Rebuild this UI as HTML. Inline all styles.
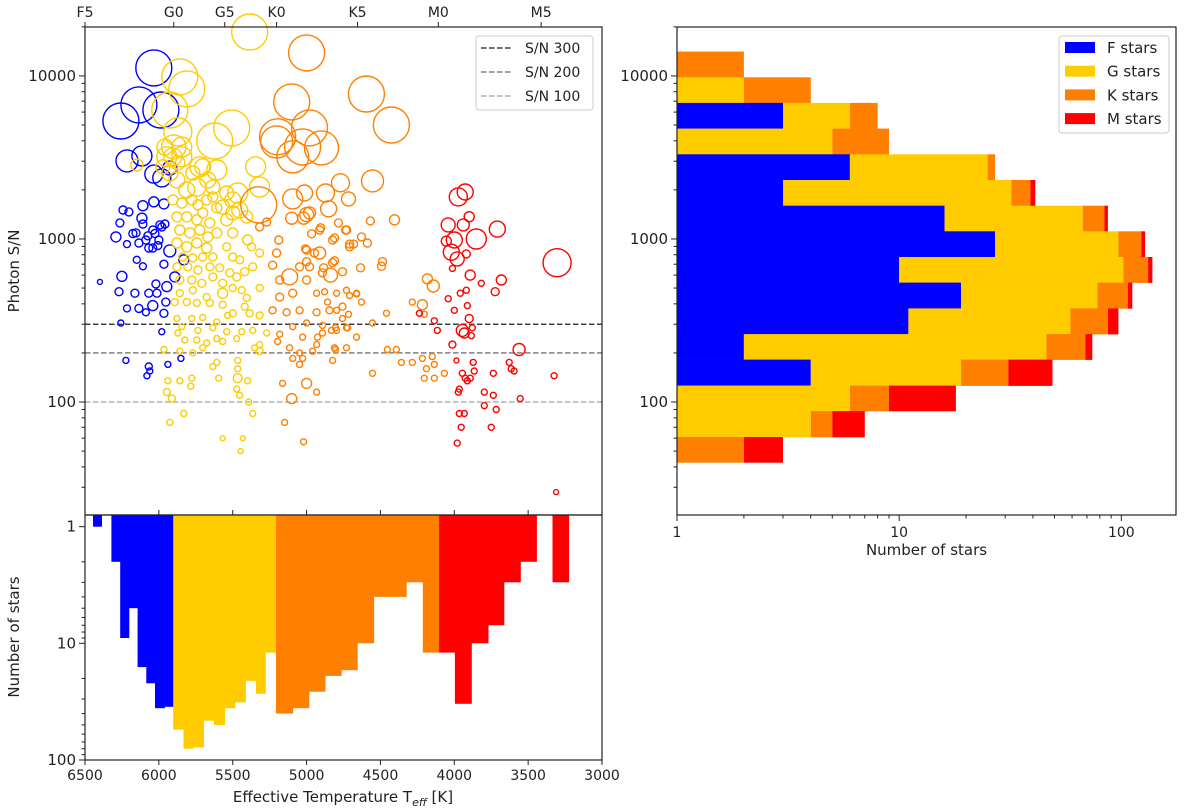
<!DOCTYPE html>
<html><head><meta charset="utf-8"><style>
html,body{margin:0;padding:0;background:#fff;}
svg{display:block;font-family:"DejaVu Sans","Liberation Sans",sans-serif;}
</style></head><body>
<svg id="chart" width="1200" height="811" viewBox="0 0 1200 811" xmlns="http://www.w3.org/2000/svg">
<g id="scatter"></g>
<g id="bottomhist"></g>
<g id="righthist"></g>
</svg>
<script>
// ---------- DATA ----------
const fTeff=[6034,6135,6257,5986,6216,6115,6034,5980,5926,6399,6270,6216,6257,6223,6068,6081,6061,5939,5851,6135,6088,6162,6068,6013,6041,5966,5980,5953,6020,5946,5892,6250,6149,6108,5966,5926,5831,6291,6216,6135,6074,6041,6000,5980,6108,6041,6115,6243,6203,6264,6108,6034,5966,6155,6068,5993,5959,6027,6007,6088,6176];
const fSnr=[11200,6640,5290,6180,3010,3230,2500,2370,2720,545,475,375,305,180,165,145,155,170,185,375,355,465,465,465,390,350,270,410,530,510,585,590,745,680,700,845,745,1030,930,945,1045,880,985,1185,1235,1135,1340,1505,1465,1255,1600,1690,1640,1090,880,1220,1235,1080,910,985,1080];
const fSize=[18,18,18,18,11,10,9,9,7,2.5,4,3.5,3,3,3.5,3,3,3,3,4,3.5,4,4,4,5,4,3,4,4,5,5,5,3.5,3.5,4,6,5,5,3.5,4,4,4,4,4,4,4,5,4,4,4,5,5,5,4,4,4,4,4,4,4,4];

const gTeff=[5385,5858,5811,5926,5872,5622,5507,5899,5946,5845,5723,5608,5345,5318,5466,5703,5770,5669,5743,5811,5878,5926,5872,5845,5905,5959,5635,5541,5500,5453,5500,5405,5568,5541,6149,5973,
5905,5845,5777,5736,5676,5635,5608,5878,5811,5743,5703,5655,5858,5790,5723,5669,5608,5878,5811,5743,5676,5838,5770,5703,5635,5878,5804,5736,5655,5588,5520,5858,5777,5709,5635,5568,5473,5419,5365,5318,5372,5399,5500,5541,5500,5453,
5858,5770,5676,5568,5500,5439,5405,5318,5892,5811,5743,5655,5568,5500,5419,5385,5318,5878,5777,5703,5608,5534,5845,5736,5635,5541,5439,5365,5270,5872,5824,5743,5676,5608,5568,5473,5351,5318,5966,5858,5770,5703,5635,5608,5466,5466,5318,5939,5858,5777,5784,5595,5466,5399,5946,5912,5453,5392,5365,5831,5926,5568,5432,5446,5473];
const gSnr=[18600,9860,8320,6180,4540,3990,4800,3670,3190,3190,2770,2650,2770,2080,1915,2770,2540,2300,2080,2000,2300,2540,2930,3660,3190,3660,2080,1915,1735,1505,1445,1365,1570,1310,2840,2770,
1735,1660,1735,1620,1735,1810,1550,1365,1365,1310,1445,1255,1135,1090,1135,1030,1090,945,895,945,880,775,765,775,775,675,675,645,675,665,620,560,560,535,585,535,585,630,675,820,895,985,1090,895,775,745,
465,485,440,465,500,485,435,500,410,410,405,405,395,350,385,350,340,325,325,330,310,340,290,275,285,270,270,275,265,265,240,240,230,245,235,245,215,225,210,205,200,215,165,175,180,160,205,135,135,140,125,140,140,135,115,105,110,100,85,85,75,60,60,50,120];
const gSize=[18,18,18,18,14,18,18,12,10,10,10,10,10,10,10,8,7,8,9,8,8,8,7,10,9,8,7,7,8,8,7,6,7,6,6,7,
5,5,5,5,5,5,5,5,5,5,5,5,5,5,5,5,5,5,5,5,5,4,4,4,4,4,4,4,4,4,4,4,4,4,4,4,4,4,4,4,4,5,5,4,4,4,
3.5,3.5,3.5,5,3.5,3.5,3.5,3.5,3.5,3.5,3.5,3.5,3.5,3.5,3.5,3.5,3.5,3,3,3,3,3,3,3,3,3,3,3,3,3,3,3,3,3,3,3,3,3,3,3,3,3,3,3,3,3,3.5,3,3,3,3,3,4.5,3,3.5,3.5,3,3,3,3,3,2.5,2.5,2.5,3];

const kTeff=[5000,5101,5196,5203,4980,5027,4899,5094,4595,4426,4554,4770,4872,4716,4851,5014,5094,5324,5000,5101,4980,5020,
5318,5270,5189,5203,5230,5182,5115,5047,5000,4946,4912,4824,4730,4709,4824,4892,5000,5094,5182,5230,5135,5047,4932,4845,4757,5000,5094,5182,5027,4892,4797,4730,5196,5115,5047,4959,4811,4730,5094,5047,4824,5162,5000,4932,5101,5149,5020,4730,4662,4797,4932,
4912,4811,4838,4757,4635,4486,4493,4709,4682,4628,4588,4811,4736,4568,4405,4784,4905,4966,4885,4980,4878,4858,4709,4662,4628,4797,4757,4716,4892,4831,4804,4723,4662,4554,4459,4926,4932,4804,4453,4392,5027,4554,4358,4284,4216,4149,4189,4135,4203,4135,4067,4284,4216,4203,4182,4142,5007,5000];
const kSnr=[13850,6930,4230,3940,4800,3670,3620,3190,7750,5000,2270,2210,1915,1760,1530,1915,1760,1620,1410,1340,1445,1340,
1185,1270,985,820,690,560,585,675,855,820,1135,985,1135,895,715,620,560,465,440,365,355,365,355,365,385,305,290,260,250,265,275,285,235,215,200,205,215,215,185,170,180,130,130,115,105,75,57,485,465,465,465,
820,735,600,630,665,725,680,930,930,1030,945,1015,1135,1290,1310,1255,1170,1075,665,675,475,410,450,460,410,365,325,345,295,275,285,285,250,305,350,250,225,210,210,210,185,150,175,175,185,190,160,170,140,140,150,410,395,345,570,515,870,725];
const kSize=[18,18,18,16,18,18,17,16,18,18,11,9,9,7,8,8,10,18,7,6,6,6,
4,4,4,4,4,4,8,4,4,4,4,4,4,4,4,4,4,4,4,3.5,3.5,3.5,3.5,3.5,3.5,3,3,3,3,3,3,3,3,3,3,3,3,3,3,3,3,3,5,3,5,3,3,3,3,3,3,
6,4,7,4,4,4,4,4,4,4,4,4,4,4,5,4,4,4,4,4,3,3,3,3,3,3,3,3,3,3,3,3,3,3,3,3,3,3,3,3,3,3,3,3,3,3,3,3,3,3,3,3,5,3,5,6,4,4];

const mTeff=[3973,3926,3899,4041,3939,3709,4000,3851,4054,4020,3980,3304,3919,4013,3892,3682,3817,3723,4135,4115,4041,4000,3959,3919,3912,3899,3946,3932,3878,3885,4013,3986,3946,3926,3912,3892,3872,3865,3736,3628,3615,3595,3561,3324,3797,3736,3554,3973,3966,3797,3716,3966,3932,3953,3750,3980,3311,4236];
const mSnr=[1810,1940,1370,1220,1220,1150,985,1000,970,830,755,715,810,660,600,560,535,475,315,275,430,365,465,485,390,325,275,265,285,255,225,180,150,140,135,140,175,155,150,175,160,155,210,145,115,110,105,115,120,95,90,85,85,70,70,56,28,350];
const mSize=[9,8,5,7,6,8,8,10,5,8,7,14,4,3,5,5,3,4,3,3,3,3,3,3,3,4,6,5,3,3,3.5,2.5,3,3,3,3,3,3,3,3,3,3,6,3,3,3,3,3,3,3,3,3,3,3,3,3,2.5,3];

// bottom histogram (Teff bins)
const binLo=[6446,6321,6262,6203,6144,6085,6026,5962,5903,5833,5769,5697,5627,5555,5485,5413,5343,5279,5207,5094,4984,4874,4765,4657,4545,4325,4213,4103,3996,3884,3771,3664,3552,3335];
const binHi=[6388,6262,6203,6144,6085,6026,5962,5903,5833,5769,5697,5627,5555,5485,5413,5343,5279,5207,5094,4984,4874,4765,4657,4545,4325,4213,4103,3996,3884,3771,3664,3552,3444,3225];
const binCount=[1,2,9,5,16,22,36,35,55,80,78,46,50,36,32,21,27,12,40,36,26,19,17,10,4,3,12,12,33,10,7,3,2,3];
const binClass=["F","F","F","F","F","F","F","F","G","G","G","G","G","G","G","G","G","G","K","K","K","K","K","K","K","K","K","M","M","M","M","M","M","M"];

// right histogram (S/N bins, top to bottom)
const snrEdges=[14090,9810,6830,4750,3305,2300,1600,1115,775,540,375,261,182,126,88,61,42.6];
const countF=[0,0,3,0,6,3,16,27,10,19,11,2,4,0,0,0];
const countG=[0,2,3,5,19,29,51,70,92,59,48,44,15,6,4,0];
const countK=[2,2,2,4,2,7,17,26,30,29,28,23,12,3,1,2];
const countM=[0,0,0,0,0,2,3,5,6,5,10,5,18,9,2,1];

const refLevels=[300,200,100];
const refLabels=["S/N 300","S/N 200","S/N 100"];
const specTeff=[6500,5899,5554,5203,4655,4108,3412];
const specLabels=["F5","G0","G5","K0","K5","M0","M5"];
const teffTicks=[6500,6000,5500,5000,4500,4000,3500,3000];
const snrTicks=[100,1000,10000];
const countTicks=[1,10,100];

// ---------- STYLE / SCALES ----------
const COL={F:"#0000ff",G:"#ffcc00",K:"#ff8000",M:"#ff0000"};
const NS="http://www.w3.org/2000/svg";
const L={x0:85,x1:602,y0:27,y1:515,hy1:760};
const R={x0:677,x1:1176};
const yLo=1.307,yHi=4.30;
function xT(t){return L.x0+(6500-t)/3500*(L.x1-L.x0);}
function yS(v){return L.y1-(Math.log10(v)-yLo)/(yHi-yLo)*(L.y1-L.y0);}
function yN(n){return L.y1+(Math.log10(n)+0.1)/2.1*(L.hy1-L.y1);}
function xN(n){return R.x0+Math.log10(n)/2.246*(R.x1-R.x0);}
function mk(tag,attrs,parent){const e=document.createElementNS(NS,tag);for(const k in attrs)e.setAttribute(k,attrs[k]);parent.appendChild(e);return e;}
function txt(s,attrs,parent){const e=mk("text",attrs,parent);e.textContent=s;return e;}

const sc=document.getElementById("scatter"),bh=document.getElementById("bottomhist"),rh=document.getElementById("righthist");

// ---------- SCATTER ----------
refLevels.forEach((lv,i)=>{
  const c=["#404040","#808080","#b0b0b0"][i];
  const ln=mk("line",{x1:L.x0,x2:L.x1,y1:yS(lv),y2:yS(lv),stroke:c,"stroke-width":1.5,"stroke-dasharray":"5.5,2.5"},sc);
  
  
});
const groups=[["F",fTeff,fSnr,fSize],["G",gTeff,gSnr,gSize],["K",kTeff,kSnr,kSize],["M",mTeff,mSnr,mSize]];
groups.forEach(([cls,T,S,Z])=>{
  const g=mk("g",{},sc);
  
  
  for(let i=0;i<T.length;i++){
    const c=mk("circle",{cx:xT(T[i]).toFixed(1),cy:yS(S[i]).toFixed(1),r:Z[i],fill:"none",stroke:COL[cls],"stroke-width":1.4},g);
    
    
  }
});
const sf=mk("rect",{x:L.x0,y:L.y0,width:L.x1-L.x0,height:L.y1-L.y0,fill:"none",stroke:"#222","stroke-width":1.2},sc);


// y ticks
for(let d=1;d<=4;d++){for(let m=1;m<10;m++){const v=m*Math.pow(10,d);const y=yS(v);if(y<L.y0-0.5||y>L.y1+0.5)continue;
  mk("line",{x1:L.x0,x2:L.x0-(m===1?6:3.5),y1:y,y2:y,stroke:"#222","stroke-width":1},sc);}}
snrTicks.forEach(v=>{const t=txt(String(v),{x:L.x0-9,y:yS(v)+5,"text-anchor":"end","font-size":15,fill:"#222"},sc);
  });
// top spectral ticks
specTeff.forEach((t,i)=>{const x=xT(t);mk("line",{x1:x,x2:x,y1:L.y0,y2:L.y0-5,stroke:"#222","stroke-width":1},sc);
  const e=txt(specLabels[i],{x:x,y:L.y0-10,"text-anchor":"middle","font-size":14,fill:"#222"},sc);
  });
const yt=txt("Photon S/N",{transform:"translate(19,271) rotate(-90)","text-anchor":"middle","font-size":15,fill:"#222"},sc);

// legend
const lg=mk("g",{},sc);


mk("rect",{x:476,y:36,width:117,height:74,rx:3,fill:"#fff","fill-opacity":0.85,stroke:"#ccc","stroke-width":1},lg);
refLabels.forEach((s,i)=>{const y=48+i*24;
  mk("line",{x1:481,x2:512,y1:y,y2:y,stroke:["#404040","#808080","#b0b0b0"][i],"stroke-width":1.5,"stroke-dasharray":"5.5,2.5"},lg);
  const e=txt(s,{x:525,y:y+5,"font-size":14,fill:"#222"},lg);
  });

// ---------- BOTTOM HIST ----------
for(let i=0;i<binCount.length;i++){
  const xa=xT(binLo[i]),xb=xT(binHi[i]);
  const r=mk("rect",{x:xa.toFixed(1),y:L.y1,width:(xb-xa+0.4).toFixed(1),height:(yN(binCount[i])-L.y1).toFixed(1),fill:COL[binClass[i]]},bh);
  
  
}
const bf=mk("rect",{x:L.x0,y:L.y1,width:L.x1-L.x0,height:L.hy1-L.y1,fill:"none",stroke:"#222","stroke-width":1.2},bh);


for(let d=0;d<=1;d++){for(let m=1;m<10;m++){const v=m*Math.pow(10,d);const y=yN(v);
  mk("line",{x1:L.x0,x2:L.x0-(m===1?6:3.5),y1:y,y2:y,stroke:"#222","stroke-width":1},bh);}}
mk("line",{x1:L.x0,x2:L.x0-6,y1:yN(100),y2:yN(100),stroke:"#222","stroke-width":1},bh);
countTicks.forEach(v=>{const t=txt(String(v),{x:L.x0-9,y:yN(v)+5,"text-anchor":"end","font-size":15,fill:"#222"},bh);
  });
teffTicks.forEach(t=>{const x=xT(t);
  mk("line",{x1:x,x2:x,y1:L.hy1,y2:L.hy1+5,stroke:"#222","stroke-width":1},bh);
  mk("line",{x1:x,x2:x,y1:L.y1,y2:L.y1-5,stroke:"#222","stroke-width":1},bh);
  const e=txt(String(t),{x:x,y:L.hy1+20,"text-anchor":"middle","font-size":14,fill:"#222"},bh);
  });
const bt=txt("Number of stars",{transform:"translate(19,637) rotate(-90)","text-anchor":"middle","font-size":15,fill:"#222"},bh);

const xt=mk("text",{x:343,y:802,"text-anchor":"middle","font-size":15,fill:"#222"},bh);
xt.innerHTML='Effective Temperature T<tspan font-size="11" dy="4" font-style="italic">eff</tspan><tspan dy="-4"> [K]</tspan>';


// ---------- RIGHT HIST ----------
const stacks=[["F",countF],["G",countG],["K",countK],["M",countM]];
for(let i=0;i<snrEdges.length-1;i++){
  let cum=0;const ya=yS(snrEdges[i]),yb=yS(snrEdges[i+1]);
  stacks.forEach(([cls,arr])=>{
    const n=arr[i];if(n<=0)return;
    const xa=cum>0?xN(cum):R.x0;cum+=n;const xb=xN(cum);
    const r=mk("rect",{x:xa.toFixed(1),y:ya.toFixed(1),width:(xb-xa).toFixed(1),height:(yb-ya+0.3).toFixed(1),fill:COL[cls]},rh);
    
    
  });
}
const rf=mk("rect",{x:R.x0,y:L.y0,width:R.x1-R.x0,height:L.y1-L.y0,fill:"none",stroke:"#222","stroke-width":1.2},rh);


for(let d=1;d<=4;d++){for(let m=1;m<10;m++){const v=m*Math.pow(10,d);const y=yS(v);if(y<L.y0-0.5||y>L.y1+0.5)continue;
  mk("line",{x1:R.x0,x2:R.x0-(m===1?6:3.5),y1:y,y2:y,stroke:"#222","stroke-width":1},rh);}}
snrTicks.forEach(v=>{const t=txt(String(v),{x:R.x0-9,y:yS(v)+5,"text-anchor":"end","font-size":15,fill:"#222"},rh);
  });
for(let d=0;d<=2;d++){for(let m=1;m<10;m++){const v=m*Math.pow(10,d);const x=xN(v);if(x>R.x1+0.5)continue;
  mk("line",{x1:x,x2:x,y1:L.y1,y2:L.y1+(m===1?6:3.5),stroke:"#222","stroke-width":1},rh);}}
countTicks.forEach(v=>{const t=txt(String(v),{x:xN(v),y:L.y1+22,"text-anchor":"middle","font-size":14,fill:"#222"},rh);
  });
const rt=txt("Number of stars",{x:(R.x0+R.x1)/2,y:555,"text-anchor":"middle","font-size":15,fill:"#222"},rh);

const rl=mk("g",{},rh);


mk("rect",{x:1059,y:36,width:110,height:97,rx:3,fill:"#fff","fill-opacity":0.85,stroke:"#ccc","stroke-width":1},rl);
["F stars","G stars","K stars","M stars"].forEach((s,i)=>{const y=47.5+i*23.7;
  mk("rect",{x:1065,y:y-5.5,width:30,height:11,fill:COL["FGKM"[i]]},rl);
  const e=txt(s,{x:1107,y:y+5.5,"font-size":15,fill:"#222"},rl);
  });
</script>
</body></html>
